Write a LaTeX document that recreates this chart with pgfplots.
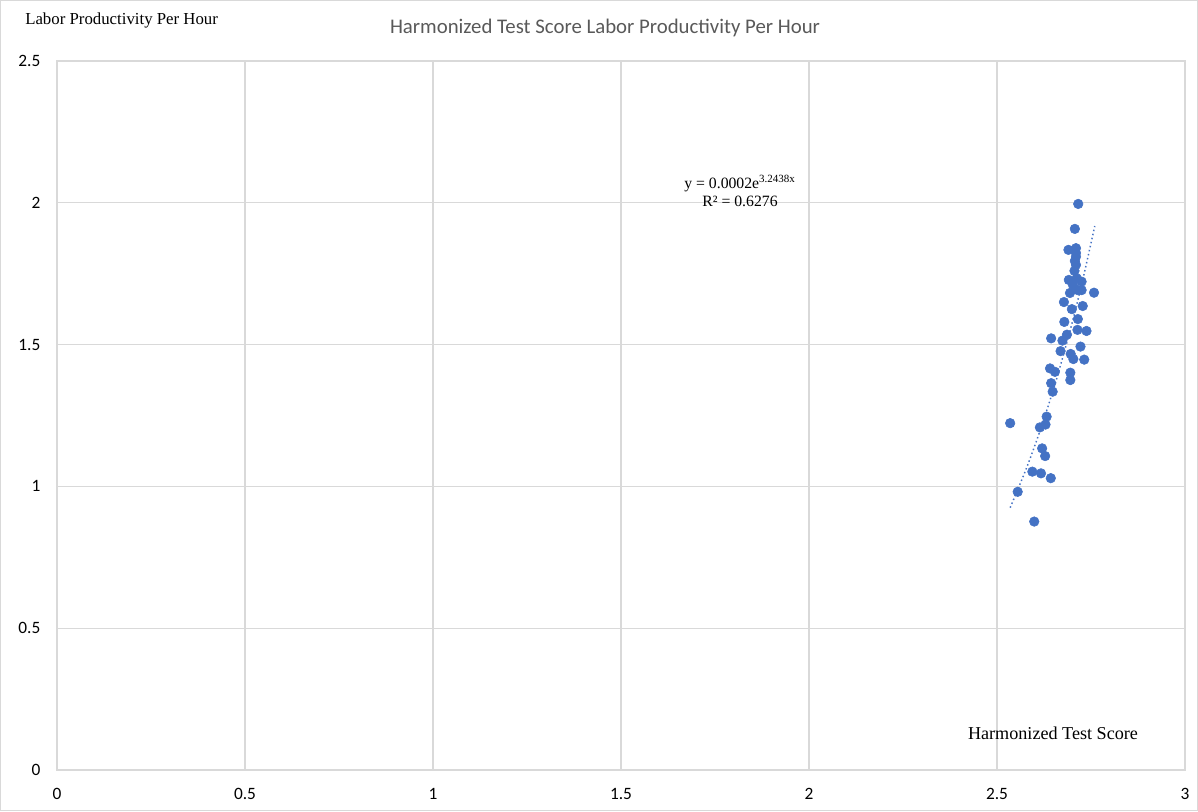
\documentclass[border=0pt]{standalone}
\usepackage{pgfplots}
\pgfplotsset{compat=1.18}
\usepackage{fontspec}
\setmainfont{Liberation Serif}
\newfontfamily\calibri{Carlito}
\definecolor{xlblue}{RGB}{68,114,196}
\definecolor{gridgray}{RGB}{217,217,217}
\definecolor{titlegray}{RGB}{89,89,89}
\begin{document}
\begin{tikzpicture}
\useasboundingbox (0,0) rectangle (898.5pt,608.25pt);
\draw[gridgray, line width=0.8pt] (0.4pt,0.4pt) rectangle (898.1pt,607.85pt);
\begin{axis}[
  scale only axis,
  width=846pt, height=531.75pt,
  at={(42.75pt,30.75pt)}, anchor=south west,
  xmin=0, xmax=3, ymin=0, ymax=2.5,
  xtick={0,0.5,...,3}, ytick={0,0.5,...,2.5},
  grid=major,
  grid style={gridgray, line width=0.8pt},
  axis line style={gridgray, line width=0.8pt},
  major tick length=0pt,
  /pgf/number format/assume math mode=true,
  ticklabel style={font=\calibri\fontsize{13}{15}\selectfont, black},
  xticklabel style={yshift=-10.5pt},
  yticklabel style={xshift=-9pt},
  clip=false,
]
\addplot[only marks, mark=*, mark size=3.6pt, mark options={fill=xlblue, draw=xlblue}] coordinates {
(2.716,1.996) (2.707,1.908) (2.690,1.834) (2.710,1.840) (2.710,1.823)
(2.710,1.810) (2.707,1.795) (2.710,1.781) (2.706,1.760) (2.691,1.728)
(2.712,1.734) (2.725,1.722) (2.702,1.710) (2.725,1.692) (2.715,1.692)
(2.694,1.682) (2.758,1.683) (2.678,1.650) (2.728,1.636) (2.699,1.625)
(2.715,1.590) (2.679,1.580) (2.714,1.552) (2.738,1.548) (2.686,1.535)
(2.644,1.522) (2.674,1.514) (2.722,1.493) (2.669,1.477) (2.696,1.467)
(2.703,1.449) (2.732,1.447) (2.641,1.416) (2.654,1.404) (2.695,1.401)
(2.695,1.375) (2.644,1.364) (2.648,1.334) (2.632,1.246) (2.535,1.223)
(2.629,1.218) (2.614,1.208) (2.620,1.134) (2.628,1.107) (2.594,1.052)
(2.617,1.046) (2.643,1.029) (2.555,0.981) (2.599,0.876)
};
\addplot[xlblue, dotted, line width=1.1pt, smooth] coordinates {
(2.535,0.925) (2.58,1.070) (2.62,1.218) (2.66,1.386) (2.70,1.578) (2.73,1.740) (2.76,1.918)
};
\end{axis}
\node[font=\calibri\fontsize{15.6}{17}\selectfont, text=titlegray] at (453.75pt,587.25pt) {Harmonized Test Score Labor Productivity Per Hour};
\node[anchor=west, font=\fontsize{12.6}{15}\selectfont, inner sep=0pt] at (18.75pt,593.25pt) {Labor Productivity Per Hour};
\node[font=\fontsize{13.6}{15}\selectfont] at (789.75pt,58.5pt) {Harmonized Test Score};
\node[align=center, font=\fontsize{11.8}{13.5}\selectfont] at (555pt,465pt) {y = 0.0002e\textsuperscript{3.2438x}\\R² = 0.6276};
\end{tikzpicture}
\end{document}
